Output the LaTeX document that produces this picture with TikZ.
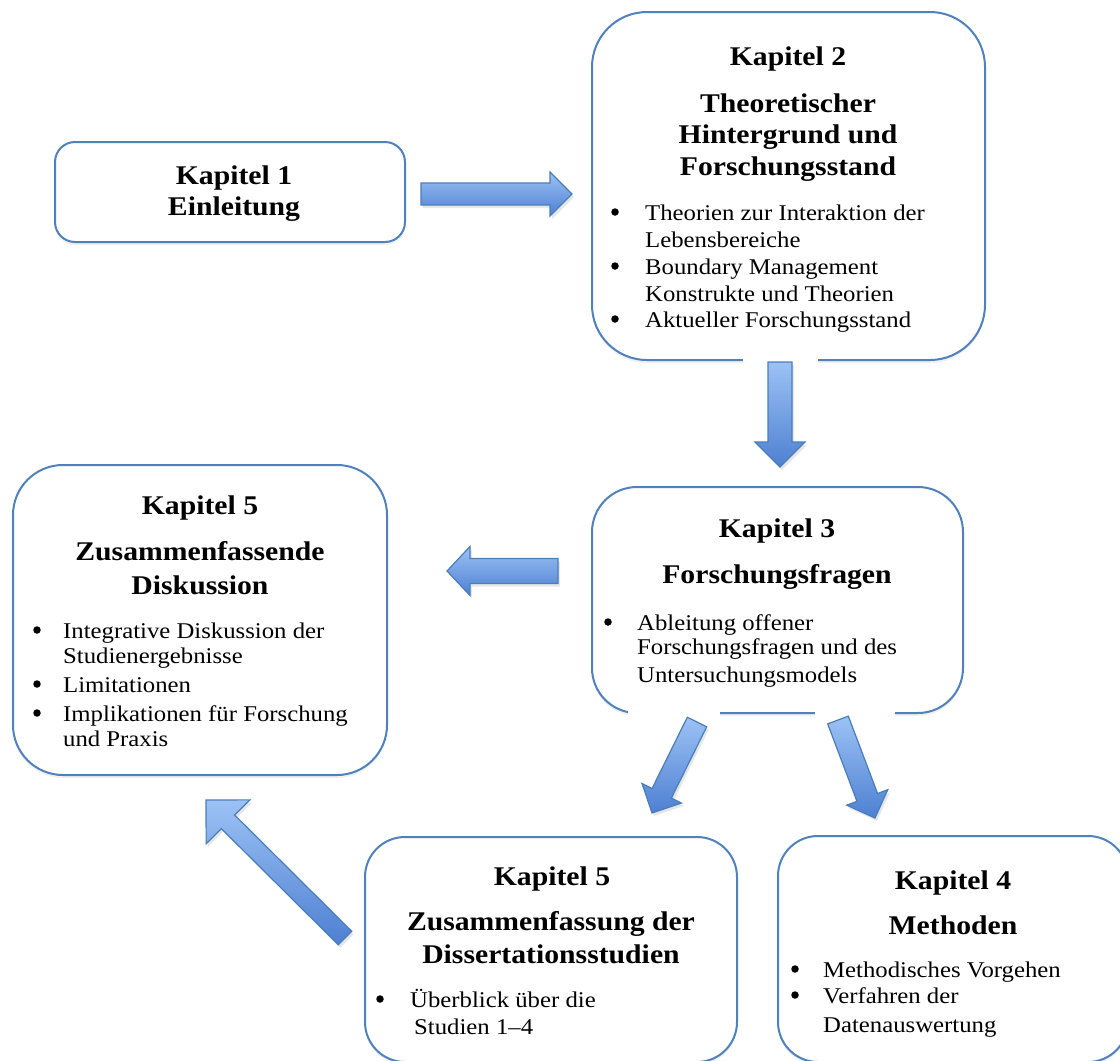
\documentclass[tikz,border=0pt]{standalone}
\usepackage{fontspec}
\setmainfont{Liberation Serif}[FakeStretch=1.1]
\usetikzlibrary{calc,shadows}
\definecolor{boxblue}{HTML}{4F81BD}
\definecolor{arrlight}{HTML}{9CC2F5}
\definecolor{arrdark}{HTML}{4E80D2}
\definecolor{arredge}{HTML}{4A7EBB}
\tikzset{
  chapbox/.style={draw=boxblue, line width=2pt, fill=white, inner sep=0pt,
    drop shadow={opacity=0.12, shadow xshift=0pt, shadow yshift=-3pt}},
  head/.style={font=\fontsize{27}{32}\selectfont\bfseries, inner sep=0pt, anchor=base},
  body/.style={font=\fontsize{22.5}{27}\selectfont, inner sep=0pt, anchor=base west},
  dotmark/.style={circle, fill=black, draw=none, inner sep=0pt, minimum size=7.5pt},
  barrow/.style={draw=arredge, line width=1.2pt, line join=miter,
    top color=arrlight, bottom color=arrdark,
    drop shadow={opacity=0.2, shadow xshift=2pt, shadow yshift=-3pt}},
  gapmask/.style={fill=white, draw=none},
}
% name, tail, tip, shaft half width, head half width, head length, shading angle
\newcommand\blockarrow[7]{%
  \coordinate (#1-t) at #2;
  \coordinate (#1-p) at #3;
  \coordinate (#1-c) at ($(#1-p)!#6!(#1-t)$);
  \path[barrow, shading angle=#7]
    ($(#1-t)!#4!90:(#1-p)$) -- ($(#1-c)!#4!90:(#1-p)$) -- ($(#1-c)!#5!90:(#1-p)$)
    -- (#1-p) -- ($(#1-c)!#5!-90:(#1-p)$) -- ($(#1-c)!#4!-90:(#1-p)$)
    -- ($(#1-t)!#4!-90:(#1-p)$) -- cycle;
}
\begin{document}
\begin{tikzpicture}[x=1pt,y=-1pt]
\useasboundingbox (0,0) rectangle (1120,1061);
\clip (0,0) rectangle (1120,1061);

% boxes
\node[chapbox, rounded corners=20pt, minimum width=350pt, minimum height=100pt] (k1) at (230,192) {};
\node[chapbox, rounded corners=55pt, minimum width=393pt, minimum height=348pt] (k2) at (788.5,186) {};
\node[chapbox, rounded corners=45pt, minimum width=371pt, minimum height=226pt] (k3) at (777.5,600) {};
\node[chapbox, rounded corners=50pt, minimum width=374pt, minimum height=310pt] (k5l) at (200,620) {};
\node[chapbox, rounded corners=40pt, minimum width=372pt, minimum height=225pt] (k5b) at (551,949.5) {};
\node[chapbox, rounded corners=40pt, minimum width=350pt, minimum height=226pt] (k4) at (953,949) {};

% gaps in box edges left by the arrows
\path[gapmask] (743,350) rectangle (818,370);
\path[gapmask] (628,703) rectangle (720,723);
\path[gapmask] (815,703) rectangle (895,723);

% Kapitel 1
\node[head] (k1a) at (234,184) {Kapitel 1};
\node[head] (k1b) at (234,215) {Einleitung};

% Kapitel 2
\node[head] (k2a) at (788,65) {Kapitel 2};
\node[head] (k2b) at (788,112) {Theoretischer};
\node[head] (k2c) at (788,143) {Hintergrund und};
\node[head] (k2d) at (788,175) {Forschungsstand};
\node[dotmark] (k2d1) at (615,212) {};
\node[body] (k2t1) at (645,220) {Theorien zur Interaktion der};
\node[body] (k2t2) at (645,247) {Lebensbereiche};
\node[dotmark] (k2d2) at (615,266) {};
\node[body] (k2t3) at (645,274) {Boundary Management};
\node[body] (k2t4) at (645,301) {Konstrukte und Theorien};
\node[dotmark] (k2d3) at (615,319) {};
\node[body] (k2t5) at (645,327) {Aktueller Forschungsstand};

% Kapitel 3
\node[head] (k3a) at (777,537) {Kapitel 3};
\node[head] (k3b) at (777,583) {Forschungsfragen};
\node[dotmark] (k3d1) at (608,622) {};
\node[body] (k3t1) at (637,630) {Ableitung offener};
\node[body] (k3t2) at (637,654) {Forschungsfragen und des};
\node[body] (k3t3) at (637,682) {Untersuchungsmodels};

% Kapitel 5 (left)
\node[head] (k5la) at (200,514) {Kapitel 5};
\node[head] (k5lb) at (200,560) {Zusammenfassende};
\node[head] (k5lc) at (200,594) {Diskussion};
\node[dotmark] (k5ld1) at (37,630) {};
\node[body] (k5lt1) at (63,638) {Integrative Diskussion der};
\node[body] (k5lt2) at (63,663) {Studienergebnisse};
\node[dotmark] (k5ld2) at (37,684) {};
\node[body] (k5lt3) at (63,692) {Limitationen};
\node[dotmark] (k5ld3) at (37,713) {};
\node[body] (k5lt4) at (63,721) {Implikationen für Forschung};
\node[body] (k5lt5) at (63,746) {und Praxis};

% Kapitel 5 (bottom)
\node[head] (k5ba) at (552,885) {Kapitel 5};
\node[head] (k5bb) at (551,930) {Zusammenfassung der};
\node[head] (k5bc) at (551,963) {Dissertationsstudien};
\node[dotmark] (k5bd1) at (380,999) {};
\node[body] (k5bt1) at (410,1007) {Überblick über die};
\node[body] (k5bt2) at (414,1034) {Studien 1–4};

% Kapitel 4
\node[head] (k4a) at (953,889) {Kapitel 4};
\node[head] (k4b) at (953,934) {Methoden};
\node[dotmark] (k4d1) at (795,969) {};
\node[body] (k4t1) at (823,977) {Methodisches Vorgehen};
\node[dotmark] (k4d2) at (795,995) {};
\node[body] (k4t2) at (823,1003) {Verfahren der};
\node[body] (k4t3) at (823,1032) {Datenauswertung};

% block arrows
\blockarrow{a12}{(421,194)}{(572,194)}{11pt}{22pt}{22pt}{0}
\blockarrow{a23}{(780,362)}{(780,467)}{12pt}{25pt}{25pt}{0}
\blockarrow{a35}{(558,571)}{(447,571)}{12.5pt}{24.5pt}{23pt}{0}
\blockarrow{a35b}{(697,722)}{(652,813)}{10.8pt}{22pt}{22pt}{0}
\blockarrow{a34}{(838,720)}{(875,818)}{11pt}{22pt}{22pt}{0}
\blockarrow{a55}{(345,938)}{(206,800)}{9.5pt}{31pt}{31pt}{0}
\end{tikzpicture}
\end{document}
